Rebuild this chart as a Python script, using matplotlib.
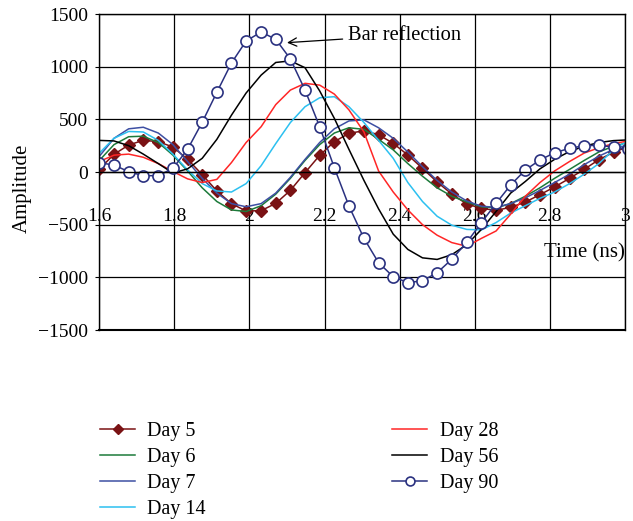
import numpy as np
import matplotlib
matplotlib.use('Agg')
import matplotlib.pyplot as plt
from matplotlib.ticker import FuncFormatter

plt.rcParams['font.family'] = ['Liberation Serif', 'DejaVu Serif']

# sample times (ns)
t = [1.600, 1.639, 1.678, 1.717, 1.757, 1.796, 1.835, 1.874, 1.913, 1.952,
     1.991, 2.031, 2.070, 2.109, 2.148, 2.187, 2.226, 2.265, 2.305, 2.344,
     2.383, 2.422, 2.461, 2.500, 2.539, 2.579, 2.618, 2.657, 2.696, 2.735,
     2.774, 2.813, 2.853, 2.892, 2.931, 2.970, 3.009]

day5 = [28, 168, 256, 301, 288, 237, 121, -25, -180, -301,
        -370, -367, -298, -174, -6, 158, 288, 367, 392, 354,
        272, 161, 35, -95, -209, -304, -345, -364, -335, -285,
        -215, -142, -60, 26, 117, 187, 240]
day6 = [110, 260, 335, 340, 280, 160, 10, -150, -280, -360,
        -375, -320, -210, -60, 110, 260, 370, 420, 405, 310,
        210, 80, -40, -150, -230, -285, -330, -340, -300, -230,
        -150, -60, 25, 110, 190, 245, 280]
day7 = [150, 320, 410, 425, 370, 260, 100, -60, -200, -300,
        -330, -300, -200, -50, 120, 280, 410, 485, 495, 420,
        320, 190, 50, -80, -190, -275, -325, -335, -300, -245,
        -175, -100, -20, 70, 150, 215, 260]
day14 = [180, 320, 385, 380, 300, 170, 20, -110, -180, -190,
         -110, 60, 270, 470, 620, 705, 715, 620, 470, 300,
         130, -100, -280, -420, -505, -545, -550, -480, -390, -320,
         -250, -190, -110, -20, 80, 210, 300]
day28 = [100, 160, 170, 140, 80, 5, -65, -100, -70, 90,
         280, 430, 640, 778, 842, 825, 740, 590, 380, 10,
         -190, -360, -500, -600, -670, -705, -630, -560, -400, -230,
         -100, 10, 100, 180, 230, 270, 295]
day56 = [300, 295, 250, 170, 80, -10, 30, 130, 310, 540,
         750, 920, 1040, 1055, 990, 770, 510, 215, -80, -350,
         -590, -735, -815, -830, -785, -690, -545, -375, -200, -90,
         30, 120, 195, 245, 280, 298, 305]
day90 = [88, 66, 3, -35, -35, 35, 215, 472, 757, 1035,
         1244, 1329, 1260, 1073, 778, 430, 41, -323, -630, -861,
         -994, -1051, -1032, -956, -829, -668, -481, -298, -123, 19,
         114, 183, 225, 250, 253, 237, 215]

fig = plt.figure(figsize=(6.33, 5.21), dpi=100)
ax = fig.add_axes([0.157, 0.3666, 0.830, 0.6065])

lw = 1.1
ax.plot(t, day5, color='#7a1214', lw=lw, marker='D', ms=6.5, label='Day 5')
ax.plot(t, day6, color='#1c7a3a', lw=lw, label='Day 6')
ax.plot(t, day7, color='#3d4fa3', lw=lw, label='Day 7')
ax.plot(t, day14, color='#2cc0f0', lw=lw, label='Day 14')
ax.plot(t, day28, color='#ff2626', lw=lw, label='Day 28')
ax.plot(t, day56, color='black', lw=lw, label='Day 56')
ax.plot(t, day90, color='#2a3180', lw=lw, marker='o', ms=8, mfc='white',
        mec='#2a3180', mew=1.2, label='Day 90')

ax.set_xlim(1.6, 3.0)
ax.set_ylim(-1500, 1500)
ax.set_xticks([1.6, 1.8, 2.0, 2.2, 2.4, 2.6, 2.8, 3.0])
ax.set_yticks([-1500, -1000, -500, 0, 500, 1000, 1500])
ax.xaxis.set_major_formatter(FuncFormatter(lambda v, p: '%g' % v))
ax.grid(True, color='black', lw=0.9)

ax.spines['bottom'].set_position(('data', 0))
for s in ax.spines.values():
    s.set_linewidth(1.0)
ax.axhline(-1500, color='black', lw=1.5, clip_on=False)

ax.tick_params(axis='x', length=0, pad=26, labelsize=14)
ax.tick_params(axis='y', length=3, pad=5, labelsize=14)

ax.text(3.0, -770, 'Time (ns)', ha='right', va='center', fontsize=15)
fig.text(22 / 633, 1 - 188 / 521, 'Amplitude', rotation=90,
         ha='center', va='center', fontsize=15)

ax.annotate('Bar reflection', xy=(2.10, 1228), xytext=(2.263, 1300),
            ha='left', va='center', fontsize=14.8,
            arrowprops=dict(arrowstyle='->', color='black', lw=0.9,
                            shrinkA=2, shrinkB=0))

fig.legend(loc='upper left', bbox_to_anchor=(100 / 633, 1 - 422 / 521),
           ncol=2, frameon=False, fontsize=14.5, handlelength=1.75,
           handletextpad=0.6, labelspacing=0.34, columnspacing=9.25,
           borderpad=0, borderaxespad=0, markerscale=0.8)

fig.savefig('out.png', dpi=100)
